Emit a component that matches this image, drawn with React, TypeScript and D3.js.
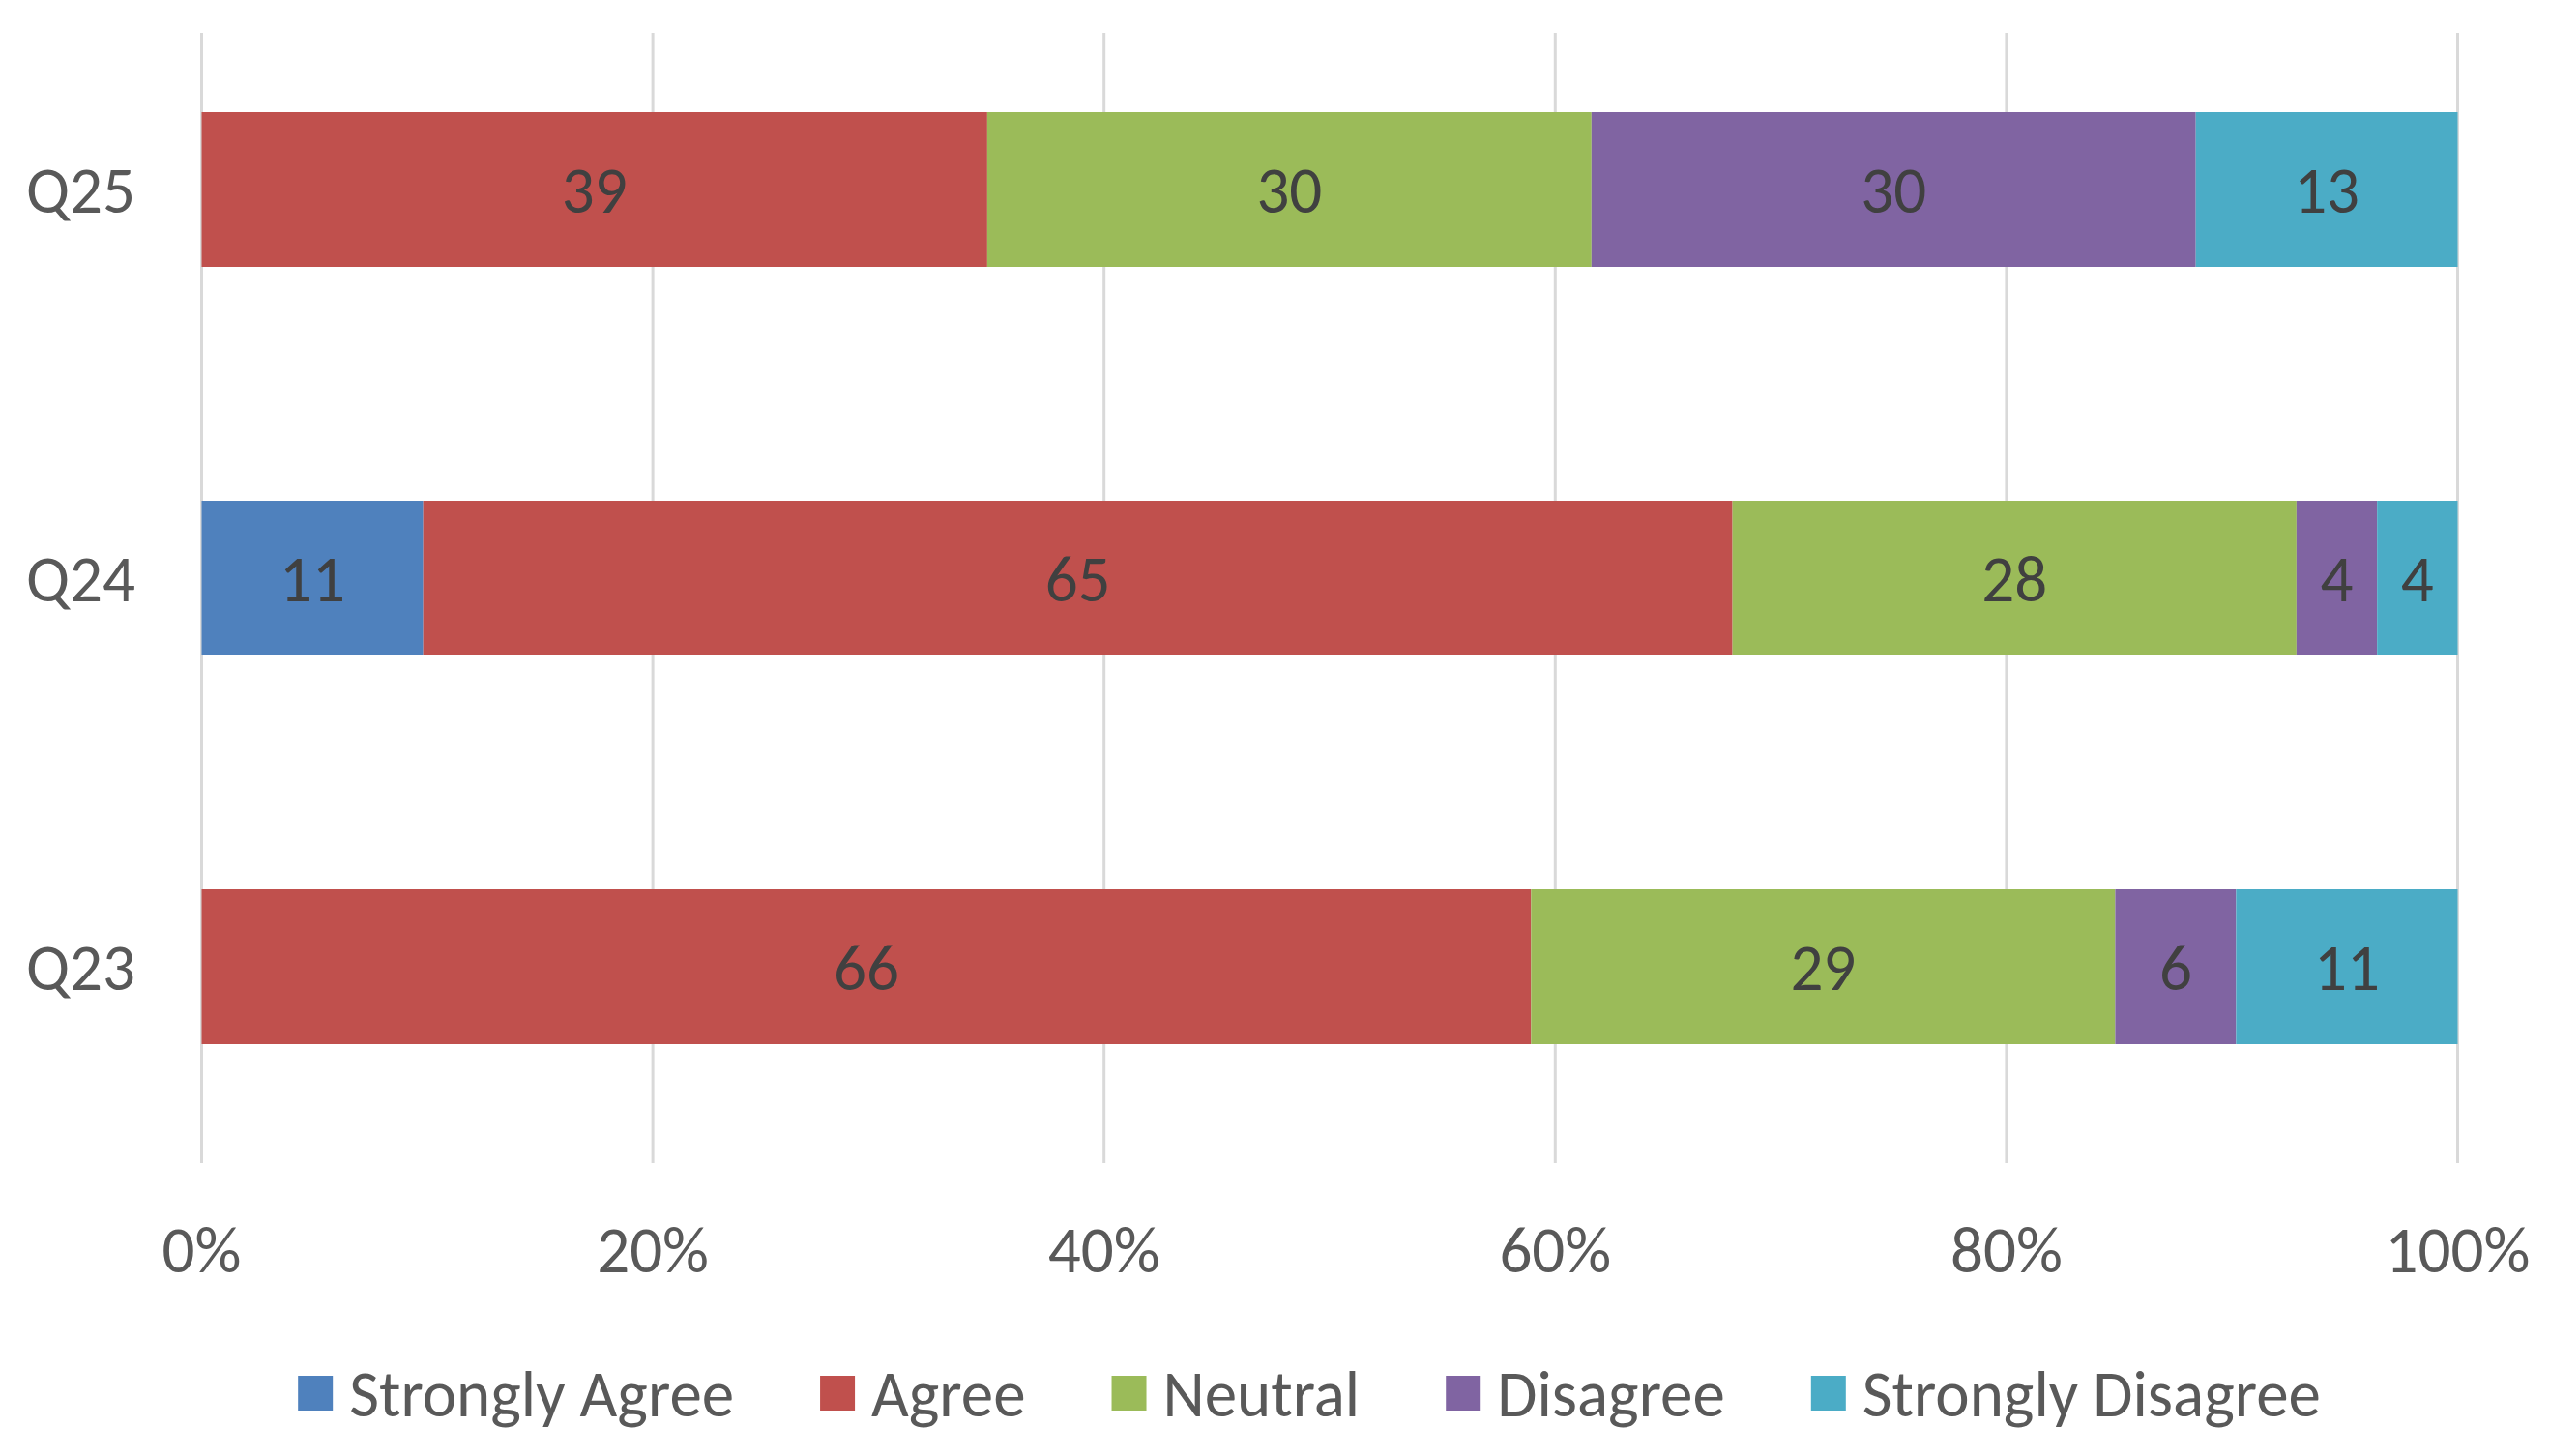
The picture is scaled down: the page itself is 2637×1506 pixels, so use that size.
import * as d3 from "d3";
import { useEffect, useRef } from "react";

const questions = ["Q25", "Q24", "Q23"];
const responses = ["Strongly Agree", "Agree", "Neutral", "Disagree", "Strongly Disagree"];
const stronglyAgree = [0, 11, 0];
const agree = [39, 65, 66];
const neutral = [30, 28, 29];
const disagree = [30, 4, 6];
const stronglyDisagree = [13, 4, 11];
const responseColors = ["#4F81BD", "#C0504D", "#9BBB59", "#8064A2", "#4BACC6"];
const percentTicks = [0, 0.2, 0.4, 0.6, 0.8, 1];

const W = 2637;
const H = 1506;
const FONT = "Calibri, Carlito, Lato, sans-serif";
const FS = 67;

export default function App() {
  const svgRef = useRef<SVGSVGElement | null>(null);

  useEffect(() => {
    document.body.style.margin = "0";
    const svg = d3.select(svgRef.current);
    svg.selectAll("*").remove();

    const seriesValues = [stronglyAgree, agree, neutral, disagree, stronglyDisagree];
    const rows = questions.map((q, i) => {
      const row: Record<string, number | string> = { q };
      responses.forEach((r, k) => (row[r] = seriesValues[k][i]));
      return row;
    });
    const stacked = d3
      .stack<Record<string, number | string>>()
      .keys(responses)
      .offset(d3.stackOffsetExpand)(rows);

    const x = d3.scaleLinear().domain([0, 1]).range([208.5, 2541.5]);
    const y = d3.scalePoint<string>().domain(questions).range([196, 1000]);
    const barH = 160;
    const color = d3.scaleOrdinal<string, string>().domain(responses).range(responseColors);

    // gridlines
    svg
      .append("g")
      .selectAll("line")
      .data(percentTicks)
      .join("line")
      .attr("x1", (d) => x(d))
      .attr("x2", (d) => x(d))
      .attr("y1", 34)
      .attr("y2", 1203)
      .attr("stroke", "#D9D9D9")
      .attr("stroke-width", 3);

    // bars
    svg
      .append("g")
      .selectAll("g")
      .data(stacked)
      .join("g")
      .attr("fill", (d) => color(d.key))
      .selectAll("rect")
      .data((d) => d)
      .join("rect")
      .attr("x", (p) => x(p[0]))
      .attr("width", (p) => x(p[1]) - x(p[0]))
      .attr("y", (p) => (y(p.data.q as string) ?? 0) - barH / 2)
      .attr("height", barH);

    // data labels, skipping empty segments
    const labels = svg.append("g").attr("font-family", FONT).attr("font-size", FS).attr("fill", "#404040");
    stacked.forEach((layer) => {
      layer.forEach((p, i) => {
        const v = seriesValues[responses.indexOf(layer.key)][i];
        if (!v) return;
        labels
          .append("text")
          .attr("x", x((p[0] + p[1]) / 2))
          .attr("y", y(questions[i]) ?? 0)
          .attr("dy", "0.36em")
          .attr("text-anchor", "middle")
          .text(v);
      });
    });

    // y category labels
    svg
      .append("g")
      .selectAll("text")
      .data(questions)
      .join("text")
      .attr("x", 140)
      .attr("y", (d) => y(d) ?? 0)
      .attr("dy", "0.36em")
      .attr("text-anchor", "end")
      .attr("font-family", FONT)
      .attr("font-size", FS)
      .attr("fill", "#595959")
      .text((d) => d);

    // x tick labels
    const fmt = d3.format(".0%");
    svg
      .append("g")
      .selectAll("text")
      .data(percentTicks)
      .join("text")
      .attr("x", (d) => x(d))
      .attr("y", 1292)
      .attr("dy", "0.36em")
      .attr("text-anchor", "middle")
      .attr("font-family", FONT)
      .attr("font-size", FS)
      .attr("fill", "#595959")
      .text((d) => fmt(d));

    // legend
    const sq = 36;
    const gapText = 17;
    const gapItem = 89;
    const legend = svg.append("g").attr("font-family", FONT).attr("font-size", FS).attr("fill", "#595959");
    const items = responses.map((r) => {
      const g = legend.append("g");
      g.append("rect").attr("width", sq).attr("height", sq).attr("y", -sq / 2).attr("fill", color(r));
      const t = g.append("text").attr("x", sq + gapText).attr("dy", "0.36em").text(r);
      const w = (t.node() as SVGTextElement).getComputedTextLength();
      return { g, w: sq + gapText + w };
    });
    const total = d3.sum(items, (d) => d.w) + gapItem * (items.length - 1);
    let cx = 1354 - total / 2;
    items.forEach((it) => {
      it.g.attr("transform", `translate(${cx},1441)`);
      cx += it.w + gapItem;
    });
  }, []);

  return <svg ref={svgRef} width={W} height={H} style={{ display: "block", background: "#fff" }} />;
}
